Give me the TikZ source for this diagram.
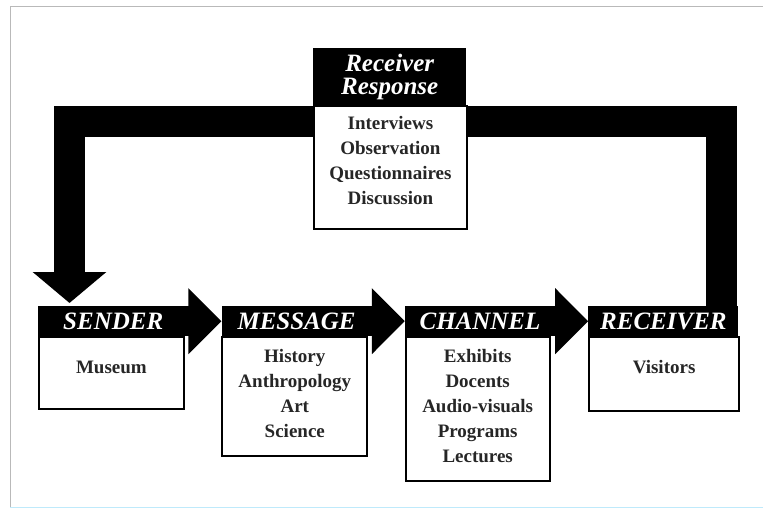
\documentclass[tikz,border=0pt]{standalone}
\usepackage{fontspec}
\setmainfont{Liberation Serif}
\usepackage{tikz}
\usetikzlibrary{arrows.meta, positioning}

\begin{document}
\begin{tikzpicture}[x=1pt, y=-1pt,
        headbox/.style={fill=black, text=white, inner sep=0pt, minimum width=150pt, minimum height=30pt,
            font=\fontsize{25}{23}\selectfont\bfseries\itshape},
        bodybox/.style={draw=black, line width=1.8pt, fill=white, inner sep=0pt, align=center,
            text=black!85, font=\fontsize{19}{25}\selectfont\bfseries},
        flow/.style={line width=30pt, -{Triangle[width=64pt,length=33pt]}},
        feedback/.style={line width=31pt, line join=miter, -{Triangle[width=72pt,length=31pt]}}]
        \useasboundingbox (0,0) rectangle (763,511);
        \draw[gray!55, line width=1pt] (10,507) -- (10,7) -- (763,7);
        \draw[cyan!25, line width=1pt] (10,507) -- (763,507);

        % sender -> message -> channel -> receiver
        \node[headbox, anchor=north west] (sendhead) at (38,306) {SENDER};
        \node[headbox, right=33pt of sendhead] (msghead) {MESSAGE};
        \node[headbox, right=33pt of msghead] (chanhead) {CHANNEL};
        \node[headbox, right=33pt of chanhead] (rcvhead) {RECEIVER};

        \node[bodybox, minimum width=145pt, minimum height=72pt, text depth=12pt, below right=0pt and 0pt of sendhead.south west] (send) {Museum};
        \node[bodybox, minimum width=145pt, minimum height=119pt, text depth=6pt, below right=0pt and 0pt of msghead.south west] (msg)
            {History\\Anthropology\\Art\\Science};
        \node[bodybox, minimum width=144pt, minimum height=144pt, text depth=6pt, below right=0pt and 0pt of chanhead.south west] (chan)
            {Exhibits\\Docents\\Audio-visuals\\Programs\\Lectures};
        \node[bodybox, minimum width=150pt, minimum height=74pt, text depth=14pt, below right=0pt and 0pt of rcvhead.south west] (rcv) {Visitors};

        \draw[flow] (sendhead.east) -- (msghead.west);
        \draw[flow] (msghead.east) -- (chanhead.west);
        \draw[flow] (chanhead.east) -- (rcvhead.west);

        % feedback loop
        \coordinate (loopR) at (721,121);
        \coordinate (loopL) at (69.5,121);
        \draw[feedback] (rcvhead.north -| loopR) -- (loopR) -- (loopL) -- ([yshift=3pt]sendhead.north -| loopL);

        \node[headbox, anchor=north west, minimum width=153pt, minimum height=57pt, align=center] (resphead) at (313,48)
            {Receiver\\Response};
        \node[bodybox, minimum width=153pt, minimum height=123pt, text depth=14pt, below right=0pt and 0pt of resphead.south west] (resp)
            {Interviews\\Observation\\Questionnaires\\Discussion};
    \end{tikzpicture}
\end{document}
